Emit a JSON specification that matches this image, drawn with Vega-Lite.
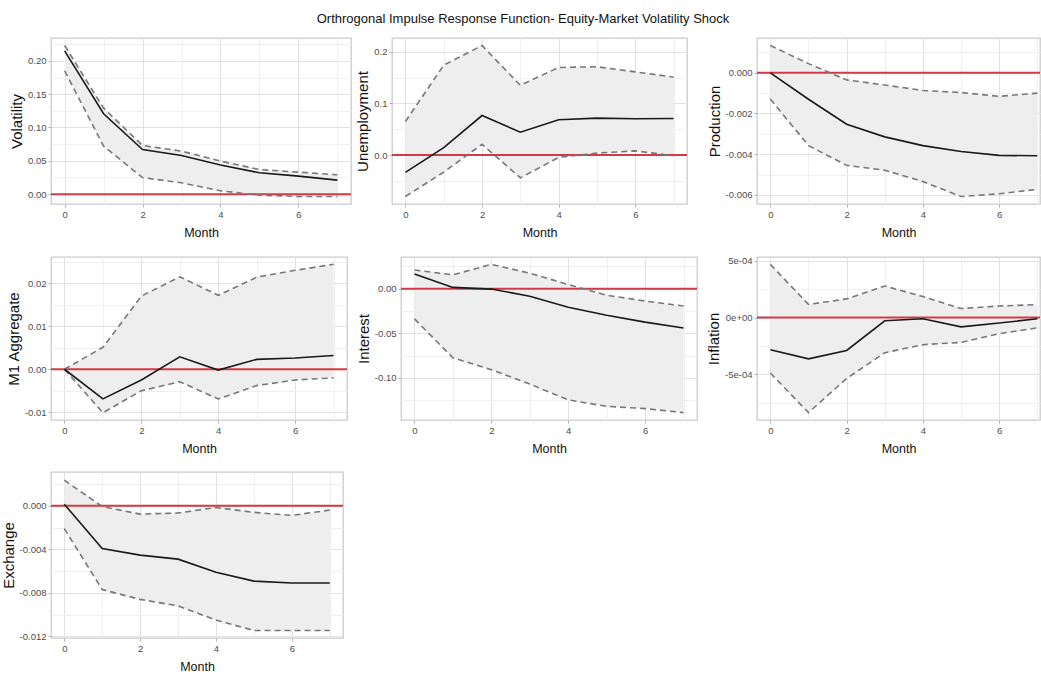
{
  "$schema": "https://vega.github.io/schema/vega-lite/v6.json",
  "padding": {"left": 0, "top": 13, "right": 0, "bottom": 0},
  "background": "white",
  "title": {"text": "Orthrogonal Impulse Response Function- Equity-Market Volatility Shock", "font": "Liberation Sans", "fontSize": 13, "fontWeight": "normal", "color": "#111111", "anchor": "middle", "offset": 11, "dx": 2},
  "datasets": {
    "vol": [
      {"month": 0, "response": 0.215, "lower": 0.185, "upper": 0.223},
      {"month": 1, "response": 0.1206, "lower": 0.072, "upper": 0.129},
      {"month": 2, "response": 0.067, "lower": 0.0248, "upper": 0.073},
      {"month": 3, "response": 0.058, "lower": 0.017, "upper": 0.0645},
      {"month": 4, "response": 0.0437, "lower": 0.005, "upper": 0.0496},
      {"month": 5, "response": 0.032, "lower": -0.0015, "upper": 0.037},
      {"month": 6, "response": 0.027, "lower": -0.0035, "upper": 0.033},
      {"month": 7, "response": 0.021, "lower": -0.0035, "upper": 0.029}
    ],
    "unemp": [
      {"month": 0, "response": -0.0335, "lower": -0.080, "upper": 0.065},
      {"month": 1, "response": 0.0146, "lower": -0.033, "upper": 0.174},
      {"month": 2, "response": 0.0766, "lower": 0.021, "upper": 0.212},
      {"month": 3, "response": 0.0443, "lower": -0.044, "upper": 0.135},
      {"month": 4, "response": 0.0684, "lower": -0.0044, "upper": 0.1696},
      {"month": 5, "response": 0.0715, "lower": 0.0038, "upper": 0.171},
      {"month": 6, "response": 0.0703, "lower": 0.0082, "upper": 0.161},
      {"month": 7, "response": 0.0709, "lower": -0.0013, "upper": 0.151}
    ],
    "prod": [
      {"month": 0, "response": 0.0, "lower": -0.00129, "upper": 0.00134},
      {"month": 1, "response": -0.0013, "lower": -0.00358, "upper": 0.00045},
      {"month": 2, "response": -0.00253, "lower": -0.00455, "upper": -0.00035},
      {"month": 3, "response": -0.00315, "lower": -0.00479, "upper": -0.0006},
      {"month": 4, "response": -0.00358, "lower": -0.00535, "upper": -0.00087},
      {"month": 5, "response": -0.00387, "lower": -0.00608, "upper": -0.00097},
      {"month": 6, "response": -0.00406, "lower": -0.00595, "upper": -0.00116},
      {"month": 7, "response": -0.00408, "lower": -0.00573, "upper": -0.001}
    ],
    "m1": [
      {"month": 0, "response": 0.0, "lower": 0.0, "upper": 0.0},
      {"month": 1, "response": -0.0069, "lower": -0.0101, "upper": 0.0051},
      {"month": 2, "response": -0.0025, "lower": -0.005, "upper": 0.017},
      {"month": 3, "response": 0.0029, "lower": -0.0029, "upper": 0.0215},
      {"month": 4, "response": -0.0002, "lower": -0.0069, "upper": 0.0172},
      {"month": 5, "response": 0.0023, "lower": -0.0038, "upper": 0.0214},
      {"month": 6, "response": 0.0026, "lower": -0.0025, "upper": 0.023},
      {"month": 7, "response": 0.0032, "lower": -0.002, "upper": 0.0244}
    ],
    "interest": [
      {"month": 0, "response": 0.0164, "lower": -0.0338, "upper": 0.0211},
      {"month": 1, "response": 0.0015, "lower": -0.0775, "upper": 0.0156},
      {"month": 2, "response": -0.0004, "lower": -0.0909, "upper": 0.0273},
      {"month": 3, "response": -0.0084, "lower": -0.107, "upper": 0.0175},
      {"month": 4, "response": -0.0207, "lower": -0.1247, "upper": 0.0047},
      {"month": 5, "response": -0.0298, "lower": -0.132, "upper": -0.0073},
      {"month": 6, "response": -0.0375, "lower": -0.1345, "upper": -0.0138},
      {"month": 7, "response": -0.044, "lower": -0.139, "upper": -0.0193}
    ],
    "infl": [
      {"month": 0, "response": -0.000284, "lower": -0.000489, "upper": 0.000469},
      {"month": 1, "response": -0.000364, "lower": -0.000838, "upper": 0.000116},
      {"month": 2, "response": -0.00029, "lower": -0.000537, "upper": 0.000165},
      {"month": 3, "response": -0.000028, "lower": -0.00031, "upper": 0.000278},
      {"month": 4, "response": -0.000011, "lower": -0.000239, "upper": 0.000185},
      {"month": 5, "response": -0.000082, "lower": -0.000219, "upper": 0.00008},
      {"month": 6, "response": -0.000048, "lower": -0.000142, "upper": 0.000102},
      {"month": 7, "response": -0.000011, "lower": -0.000091, "upper": 0.000114}
    ],
    "exch": [
      {"month": 0, "response": 0.00015, "lower": -0.00209, "upper": 0.00236},
      {"month": 1, "response": -0.00393, "lower": -0.0077, "upper": -0.00006},
      {"month": 2, "response": -0.00453, "lower": -0.0086, "upper": -0.00076},
      {"month": 3, "response": -0.0049, "lower": -0.0092, "upper": -0.00066},
      {"month": 4, "response": -0.0061, "lower": -0.0105, "upper": -0.00015},
      {"month": 5, "response": -0.00692, "lower": -0.01146, "upper": -0.0006},
      {"month": 6, "response": -0.0071, "lower": -0.01146, "upper": -0.00088},
      {"month": 7, "response": -0.0071, "lower": -0.01146, "upper": -0.00039}
    ]
  },
  "spacing": 15,
  "vconcat": [
    {
      "spacing": 2,
      "hconcat": [
        {
          "width": 300, "height": 166,
          "data": {"name": "vol"},
          "resolve": {"axis": {"y": "independent"}},
          "layer": [
            {"mark": {"type": "area", "color": "#eeeeee"},
             "encoding": {
               "x": {"field": "month", "type": "quantitative", "title": "Month", "scale": {"domain": [-0.35, 7.35], "nice": false, "zero": false},
                     "axis": {"values": [0,2,4,6,1,3,5,7], "labelExpr": "datum.value % 2 === 0 ? datum.label : ''", "tickOpacity": {"condition": {"test": "datum.value % 2 === 1", "value": 0}, "value": 1}, "gridColor": {"condition": {"test": "datum.value % 2 === 1", "value": "#efefef"}, "value": "#e2e2e2"}}},
               "y": {"field": "upper", "type": "quantitative", "title": "Volatility", "scale": {"domain": [-0.0148, 0.2343], "nice": false, "zero": false},
                     "axis": {"values": [0,0.05,0.1,0.15,0.2], "labelExpr": "format(datum.value,'.2f')"}},
               "y2": {"field": "lower"}}},
            {"data": {"values": [{}]}, "mark": {"type": "rule", "color": "#d43a45", "strokeWidth": 2},
             "encoding": {"y": {"datum": 0, "axis": {"values": [0.025,0.075,0.125,0.175,0.225], "orient": "right", "grid": true, "gridColor": "#efefef", "labels": false, "ticks": false, "domain": false, "title": null, "minExtent": 0, "maxExtent": 0}}}},
            {"mark": {"type": "line", "color": "#777777", "strokeDash": [6, 4], "strokeWidth": 1.6}, "encoding": {"x": {"field": "month", "type": "quantitative", "title": "Month"}, "y": {"field": "upper", "type": "quantitative", "axis": null}}},
            {"mark": {"type": "line", "color": "#777777", "strokeDash": [6, 4], "strokeWidth": 1.6}, "encoding": {"x": {"field": "month", "type": "quantitative", "title": "Month"}, "y": {"field": "lower", "type": "quantitative", "axis": null}}},
            {"mark": {"type": "line", "color": "#1a1a1a", "strokeWidth": 1.6}, "encoding": {"x": {"field": "month", "type": "quantitative", "title": "Month"}, "y": {"field": "response", "type": "quantitative", "axis": null}}}
          ]
        },
        {
          "spacing": 17,
          "hconcat": [
            {
              "width": 295, "height": 166,
              "data": {"name": "unemp"},
              "resolve": {"axis": {"y": "independent"}},
              "layer": [
                {"mark": {"type": "area", "color": "#eeeeee"},
                 "encoding": {
                   "x": {"field": "month", "type": "quantitative", "title": "Month", "scale": {"domain": [-0.35, 7.35], "nice": false, "zero": false},
                         "axis": {"values": [0,2,4,6,1,3,5,7], "labelExpr": "datum.value % 2 === 0 ? datum.label : ''", "tickOpacity": {"condition": {"test": "datum.value % 2 === 1", "value": 0}, "value": 1}, "gridColor": {"condition": {"test": "datum.value % 2 === 1", "value": "#efefef"}, "value": "#e2e2e2"}}},
                   "y": {"field": "upper", "type": "quantitative", "title": "Unemployment", "scale": {"domain": [-0.0946, 0.2266], "nice": false, "zero": false},
                         "axis": {"values": [0,0.1,0.2], "labelExpr": "format(datum.value,'.1f')"}},
                   "y2": {"field": "lower"}}},
                {"data": {"values": [{}]}, "mark": {"type": "rule", "color": "#d43a45", "strokeWidth": 2},
                 "encoding": {"y": {"datum": 0, "axis": {"values": [-0.05,0.05,0.15], "orient": "right", "grid": true, "gridColor": "#efefef", "labels": false, "ticks": false, "domain": false, "title": null, "minExtent": 0, "maxExtent": 0}}}},
                {"mark": {"type": "line", "color": "#777777", "strokeDash": [6, 4], "strokeWidth": 1.6}, "encoding": {"x": {"field": "month", "type": "quantitative", "title": "Month"}, "y": {"field": "upper", "type": "quantitative", "axis": null}}},
                {"mark": {"type": "line", "color": "#777777", "strokeDash": [6, 4], "strokeWidth": 1.6}, "encoding": {"x": {"field": "month", "type": "quantitative", "title": "Month"}, "y": {"field": "lower", "type": "quantitative", "axis": null}}},
                {"mark": {"type": "line", "color": "#1a1a1a", "strokeWidth": 1.6}, "encoding": {"x": {"field": "month", "type": "quantitative", "title": "Month"}, "y": {"field": "response", "type": "quantitative", "axis": null}}}
              ]
            },
            {
              "width": 283, "height": 166,
              "data": {"name": "prod"},
              "resolve": {"axis": {"y": "independent"}},
              "layer": [
                {"mark": {"type": "area", "color": "#eeeeee"},
                 "encoding": {
                   "x": {"field": "month", "type": "quantitative", "title": "Month", "scale": {"domain": [-0.35, 7.07], "nice": false, "zero": false},
                         "axis": {"values": [0,2,4,6,1,3,5,7], "labelExpr": "datum.value % 2 === 0 ? datum.label : ''", "tickOpacity": {"condition": {"test": "datum.value % 2 === 1", "value": 0}, "value": 1}, "gridColor": {"condition": {"test": "datum.value % 2 === 1", "value": "#efefef"}, "value": "#e2e2e2"}}},
                   "y": {"field": "upper", "type": "quantitative", "title": "Production", "scale": {"domain": [-0.00645, 0.00171], "nice": false, "zero": false},
                         "axis": {"values": [-0.006,-0.004,-0.002,0], "labelExpr": "replace(format(datum.value,'.3f'),'\u2212','-')"}},
                   "y2": {"field": "lower"}}},
                {"data": {"values": [{}]}, "mark": {"type": "rule", "color": "#d43a45", "strokeWidth": 2},
                 "encoding": {"y": {"datum": 0, "axis": {"values": [-0.005,-0.003,-0.001,0.001], "orient": "right", "grid": true, "gridColor": "#efefef", "labels": false, "ticks": false, "domain": false, "title": null, "minExtent": 0, "maxExtent": 0}}}},
                {"mark": {"type": "line", "color": "#777777", "strokeDash": [6, 4], "strokeWidth": 1.6}, "encoding": {"x": {"field": "month", "type": "quantitative", "title": "Month"}, "y": {"field": "upper", "type": "quantitative", "axis": null}}},
                {"mark": {"type": "line", "color": "#777777", "strokeDash": [6, 4], "strokeWidth": 1.6}, "encoding": {"x": {"field": "month", "type": "quantitative", "title": "Month"}, "y": {"field": "lower", "type": "quantitative", "axis": null}}},
                {"mark": {"type": "line", "color": "#1a1a1a", "strokeWidth": 1.6}, "encoding": {"x": {"field": "month", "type": "quantitative", "title": "Month"}, "y": {"field": "response", "type": "quantitative", "axis": null}}}
              ]
            }
          ]
        }
      ]
    },
    {
      "spacing": 6,
      "hconcat": [
        {
          "width": 296, "height": 163,
          "data": {"name": "m1"},
          "resolve": {"axis": {"y": "independent"}},
          "layer": [
            {"mark": {"type": "area", "color": "#eeeeee"},
             "encoding": {
               "x": {"field": "month", "type": "quantitative", "title": "Month", "scale": {"domain": [-0.35, 7.35], "nice": false, "zero": false},
                     "axis": {"values": [0,2,4,6,1,3,5,7], "labelExpr": "datum.value % 2 === 0 ? datum.label : ''", "tickOpacity": {"condition": {"test": "datum.value % 2 === 1", "value": 0}, "value": 1}, "gridColor": {"condition": {"test": "datum.value % 2 === 1", "value": "#efefef"}, "value": "#e2e2e2"}}},
               "y": {"field": "upper", "type": "quantitative", "title": "M1  Aggregate", "scale": {"domain": [-0.0118, 0.0261], "nice": false, "zero": false},
                     "axis": {"values": [-0.01,0,0.01,0.02], "labelExpr": "replace(format(datum.value,'.2f'),'\u2212','-')"}},
               "y2": {"field": "lower"}}},
            {"data": {"values": [{}]}, "mark": {"type": "rule", "color": "#d43a45", "strokeWidth": 2},
             "encoding": {"y": {"datum": 0, "axis": {"values": [-0.005,0.005,0.015,0.025], "orient": "right", "grid": true, "gridColor": "#efefef", "labels": false, "ticks": false, "domain": false, "title": null, "minExtent": 0, "maxExtent": 0}}}},
            {"mark": {"type": "line", "color": "#777777", "strokeDash": [6, 4], "strokeWidth": 1.6}, "encoding": {"x": {"field": "month", "type": "quantitative", "title": "Month"}, "y": {"field": "upper", "type": "quantitative", "axis": null}}},
            {"mark": {"type": "line", "color": "#777777", "strokeDash": [6, 4], "strokeWidth": 1.6}, "encoding": {"x": {"field": "month", "type": "quantitative", "title": "Month"}, "y": {"field": "lower", "type": "quantitative", "axis": null}}},
            {"mark": {"type": "line", "color": "#1a1a1a", "strokeWidth": 1.6}, "encoding": {"x": {"field": "month", "type": "quantitative", "title": "Month"}, "y": {"field": "response", "type": "quantitative", "axis": null}}}
          ]
        },
        {
          "spacing": 6,
          "hconcat": [
            {
              "width": 296, "height": 163,
              "data": {"name": "interest"},
              "resolve": {"axis": {"y": "independent"}},
              "layer": [
                {"mark": {"type": "area", "color": "#eeeeee"},
                 "encoding": {
                   "x": {"field": "month", "type": "quantitative", "title": "Month", "scale": {"domain": [-0.35, 7.35], "nice": false, "zero": false},
                         "axis": {"values": [0,2,4,6,1,3,5,7], "labelExpr": "datum.value % 2 === 0 ? datum.label : ''", "tickOpacity": {"condition": {"test": "datum.value % 2 === 1", "value": 0}, "value": 1}, "gridColor": {"condition": {"test": "datum.value % 2 === 1", "value": "#efefef"}, "value": "#e2e2e2"}}},
                   "y": {"field": "upper", "type": "quantitative", "title": "Interest", "scale": {"domain": [-0.1473, 0.0356], "nice": false, "zero": false},
                         "axis": {"values": [-0.1,-0.05,0], "labelExpr": "replace(format(datum.value,'.2f'),'\u2212','-')"}},
                   "y2": {"field": "lower"}}},
                {"data": {"values": [{}]}, "mark": {"type": "rule", "color": "#d43a45", "strokeWidth": 2},
                 "encoding": {"y": {"datum": 0, "axis": {"values": [-0.125,-0.075,-0.025,0.025], "orient": "right", "grid": true, "gridColor": "#efefef", "labels": false, "ticks": false, "domain": false, "title": null, "minExtent": 0, "maxExtent": 0}}}},
                {"mark": {"type": "line", "color": "#777777", "strokeDash": [6, 4], "strokeWidth": 1.6}, "encoding": {"x": {"field": "month", "type": "quantitative", "title": "Month"}, "y": {"field": "upper", "type": "quantitative", "axis": null}}},
                {"mark": {"type": "line", "color": "#777777", "strokeDash": [6, 4], "strokeWidth": 1.6}, "encoding": {"x": {"field": "month", "type": "quantitative", "title": "Month"}, "y": {"field": "lower", "type": "quantitative", "axis": null}}},
                {"mark": {"type": "line", "color": "#1a1a1a", "strokeWidth": 1.6}, "encoding": {"x": {"field": "month", "type": "quantitative", "title": "Month"}, "y": {"field": "response", "type": "quantitative", "axis": null}}}
              ]
            },
            {
              "width": 283, "height": 163,
              "data": {"name": "infl"},
              "resolve": {"axis": {"y": "independent"}},
              "layer": [
                {"mark": {"type": "area", "color": "#eeeeee"},
                 "encoding": {
                   "x": {"field": "month", "type": "quantitative", "title": "Month", "scale": {"domain": [-0.35, 7.07], "nice": false, "zero": false},
                         "axis": {"values": [0,2,4,6,1,3,5,7], "labelExpr": "datum.value % 2 === 0 ? datum.label : ''", "tickOpacity": {"condition": {"test": "datum.value % 2 === 1", "value": 0}, "value": 1}, "gridColor": {"condition": {"test": "datum.value % 2 === 1", "value": "#efefef"}, "value": "#e2e2e2"}}},
                   "y": {"field": "upper", "type": "quantitative", "title": "Inflation", "scale": {"domain": [-0.000903, 0.000534], "nice": false, "zero": false},
                         "axis": {"values": [-0.0005,0,0.0005], "labelExpr": "datum.value > 0.0004 ? '5e-04' : datum.value < -0.0004 ? '-5e-04' : '0e+00'"}},
                   "y2": {"field": "lower"}}},
                {"data": {"values": [{}]}, "mark": {"type": "rule", "color": "#d43a45", "strokeWidth": 2},
                 "encoding": {"y": {"datum": 0, "axis": {"values": [-0.00075,-0.00025,0.00025], "orient": "right", "grid": true, "gridColor": "#efefef", "labels": false, "ticks": false, "domain": false, "title": null, "minExtent": 0, "maxExtent": 0}}}},
                {"mark": {"type": "line", "color": "#777777", "strokeDash": [6, 4], "strokeWidth": 1.6}, "encoding": {"x": {"field": "month", "type": "quantitative", "title": "Month"}, "y": {"field": "upper", "type": "quantitative", "axis": null}}},
                {"mark": {"type": "line", "color": "#777777", "strokeDash": [6, 4], "strokeWidth": 1.6}, "encoding": {"x": {"field": "month", "type": "quantitative", "title": "Month"}, "y": {"field": "lower", "type": "quantitative", "axis": null}}},
                {"mark": {"type": "line", "color": "#1a1a1a", "strokeWidth": 1.6}, "encoding": {"x": {"field": "month", "type": "quantitative", "title": "Month"}, "y": {"field": "response", "type": "quantitative", "axis": null}}}
              ]
            }
          ]
        }
      ]
    },
    {
      "spacing": 6,
      "hconcat": [
        {
          "width": 292, "height": 166,
          "data": {"name": "exch"},
          "resolve": {"axis": {"y": "independent"}},
          "layer": [
            {"mark": {"type": "area", "color": "#eeeeee"},
             "encoding": {
               "x": {"field": "month", "type": "quantitative", "title": "Month", "scale": {"domain": [-0.35, 7.35], "nice": false, "zero": false},
                     "axis": {"values": [0,2,4,6,1,3,5,7], "labelExpr": "datum.value % 2 === 0 ? datum.label : ''", "tickOpacity": {"condition": {"test": "datum.value % 2 === 1", "value": 0}, "value": 1}, "gridColor": {"condition": {"test": "datum.value % 2 === 1", "value": "#efefef"}, "value": "#e2e2e2"}}},
               "y": {"field": "upper", "type": "quantitative", "title": "Exchange", "scale": {"domain": [-0.01215, 0.00311], "nice": false, "zero": false},
                     "axis": {"values": [-0.012,-0.008,-0.004,0], "labelExpr": "replace(format(datum.value,'.3f'),'\u2212','-')"}},
               "y2": {"field": "lower"}}},
            {"data": {"values": [{}]}, "mark": {"type": "rule", "color": "#d43a45", "strokeWidth": 2},
             "encoding": {"y": {"datum": 0, "axis": {"values": [-0.01,-0.006,-0.002,0.002], "orient": "right", "grid": true, "gridColor": "#efefef", "labels": false, "ticks": false, "domain": false, "title": null, "minExtent": 0, "maxExtent": 0}}}},
            {"mark": {"type": "line", "color": "#777777", "strokeDash": [6, 4], "strokeWidth": 1.6}, "encoding": {"x": {"field": "month", "type": "quantitative", "title": "Month"}, "y": {"field": "upper", "type": "quantitative", "axis": null}}},
            {"mark": {"type": "line", "color": "#777777", "strokeDash": [6, 4], "strokeWidth": 1.6}, "encoding": {"x": {"field": "month", "type": "quantitative", "title": "Month"}, "y": {"field": "lower", "type": "quantitative", "axis": null}}},
            {"mark": {"type": "line", "color": "#1a1a1a", "strokeWidth": 1.6}, "encoding": {"x": {"field": "month", "type": "quantitative", "title": "Month"}, "y": {"field": "response", "type": "quantitative", "axis": null}}}
          ]
        }
      ]
    }
  ],
  "config": {
    "font": "Liberation Sans",
    "view": {"stroke": "#cccccc", "strokeWidth": 1.3},
    "axis": {"domain": false, "labelColor": "#4d4d4d", "labelFontSize": 9.5, "labelFont": "Liberation Sans", "labelOverlap": false, "tickColor": "#b3b3b3", "tickSize": 3, "tickWidth": 1, "gridWidth": 1, "gridColor": "#e2e2e2", "titleColor": "#111111", "titleFontWeight": "normal", "labelPadding": 2},
    "axisX": {"titleFont": "Liberation Sans", "titleFontSize": 12.5, "titlePadding": 8},
    "axisY": {"titleFont": "Liberation Sans", "titleFontSize": 15, "titlePadding": 3}
  }
}
